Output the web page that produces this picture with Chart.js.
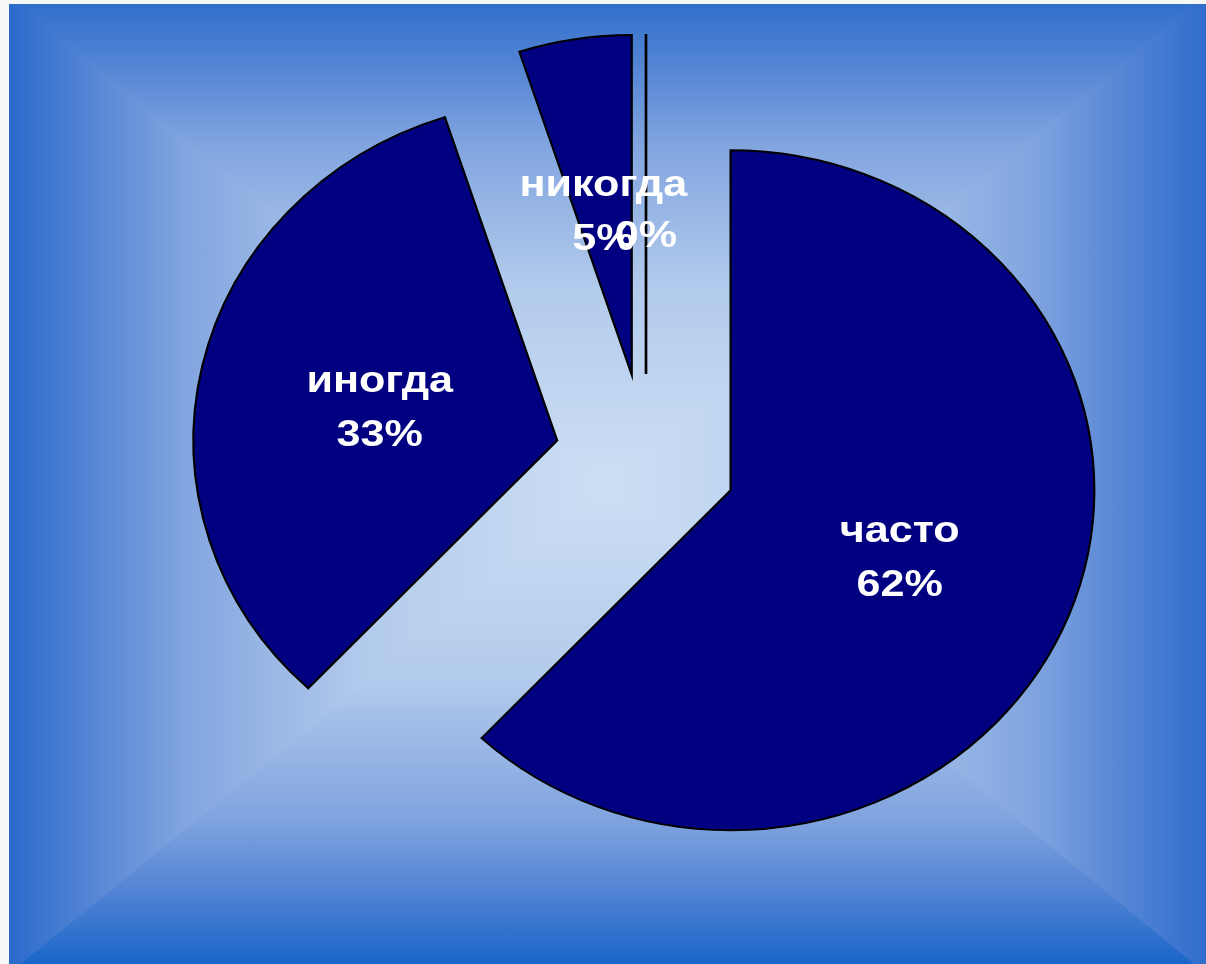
<!DOCTYPE html>
<html>
<head>
<meta charset="utf-8">
<script src="https://cdn.jsdelivr.net/npm/chart.js@4.4.1/dist/chart.umd.min.js"></script>
<style>
    html, body { margin: 0; padding: 0; background: #f7f7f5; overflow: hidden; }
    #fundo { position: absolute; left: 9px; top: 4px; width: 1197px; height: 960px; }
    #fundo div { position: absolute; left: 0; top: 0; width: 100%; height: 100%; }
    /* camada de baixo: cima e baixo inteiros, sem frestas */
    #vert { background: linear-gradient(to bottom, #3170cc 0%, #5c8ad6 8%, #83a6e0 15%, #b3cbec 30%, #cddff4 50%,
        #b3cbec 70%, #80a3df 85%, #5585d4 92%, #1965c8 100%); }
    #dir { clip-path: polygon(100% -1%, 100% 101%, 50% 50%);
        background: linear-gradient(to right, #cddff4 50%, #b3cbec 70%, #83a6e0 85%, #5c8ad6 92%, #2f6ccc 100%); }
    #esq { clip-path: polygon(0 -1%, 0 101%, 50% 50%);
        background: linear-gradient(to left, #cddff4 50%, #b3cbec 70%, #83a6e0 85%, #5c8ad6 92%, #2a6acc 100%); }
    #caixa { position: absolute; left: 0; top: 0; width: 1206px; height: 964px; }
</style>
</head>
<body>
<div id="fundo"><div id="vert"></div><div id="dir"></div><div id="esq"></div></div>
<div id="caixa"><canvas id="graficoPizza"></canvas></div>
<script>
// dados do grafico
const categorias = ['часто', 'иногда', 'никогда', ''];
const valores = [62, 33, 5, 0];

const raio = 340
const explosao = 85
const esticar = 1.07      // pizza um pouco oval
const esticarTexto = 1.12

// estica tudo na horizontal em volta do centro
const pluginEsticar = {
    id: 'esticar',
    beforeDraw(chart) {
        const ctx = chart.ctx
        const cx = (chart.chartArea.left + chart.chartArea.right) / 2
        ctx.save()
        ctx.translate(cx, 0)
        ctx.scale(esticar, 1)
        ctx.translate(-cx, 0)
    },
    afterDraw(chart) {
        chart.ctx.restore()
    }
}

// afasta cada fatia do centro
const pluginExplodir = {
    id: 'explodir',
    beforeDatasetsDraw(chart) {
        const cx = (chart.chartArea.left + chart.chartArea.right) / 2
        const cy = (chart.chartArea.top + chart.chartArea.bottom) / 2
        chart.getDatasetMeta(0).data.forEach(function(arc) {
            const meio = (arc.startAngle + arc.endAngle) / 2
            arc.x = cx + Math.cos(meio) * explosao
            arc.y = cy + Math.sin(meio) * explosao
        })
    }
}

// fatia de 0% vira uma linha, depois os rotulos
const pluginRotulos = {
    id: 'rotulos',
    afterDatasetsDraw(chart) {
        const ctx = chart.ctx
        const arcos = chart.getDatasetMeta(0).data

        arcos.forEach(function(arc) {
            if (arc.circumference === 0) {
                ctx.save()
                ctx.strokeStyle = '#000'
                ctx.lineWidth = 2.5
                ctx.beginPath()
                ctx.moveTo(arc.x, arc.y)
                ctx.lineTo(arc.x + Math.cos(arc.startAngle) * arc.outerRadius,
                           arc.y + Math.sin(arc.startAngle) * arc.outerRadius)
                ctx.stroke()
                ctx.restore()
            }
        })

        arcos.forEach(function(arc, i) {
            const p = arc.getCenterPoint()
            ctx.save()
            ctx.translate(p.x, p.y)
            ctx.scale(esticarTexto, 1)
            ctx.fillStyle = '#fff'
            ctx.font = 'bold 36px "Liberation Sans", Arial, sans-serif'
            ctx.textAlign = 'center'
            ctx.textBaseline = 'middle'
            ctx.fillText(categorias[i], 0, -21)
            ctx.fillText(valores[i] + '%', 0, 33)
            ctx.restore()
        })
    }
}

const ctx = document.getElementById('graficoPizza')

new Chart(ctx, {
    type: 'pie',
    data: {
        labels: categorias,
        datasets: [{
            data: valores,
            backgroundColor: '#000080',
            borderColor: '#000',
            borderWidth: 2,
            borderJoinStyle: 'miter'
        }]
    },
    options: {
        responsive: true,
        maintainAspectRatio: false,
        animation: false,
        radius: raio,
        layout: { padding: { left: 86, right: 0, top: 0, bottom: 46 } },
        plugins: {
            legend: { display: false },
            tooltip: { enabled: false }
        }
    },
    plugins: [pluginEsticar, pluginExplodir, pluginRotulos]
});
</script>
</body>
</html>
